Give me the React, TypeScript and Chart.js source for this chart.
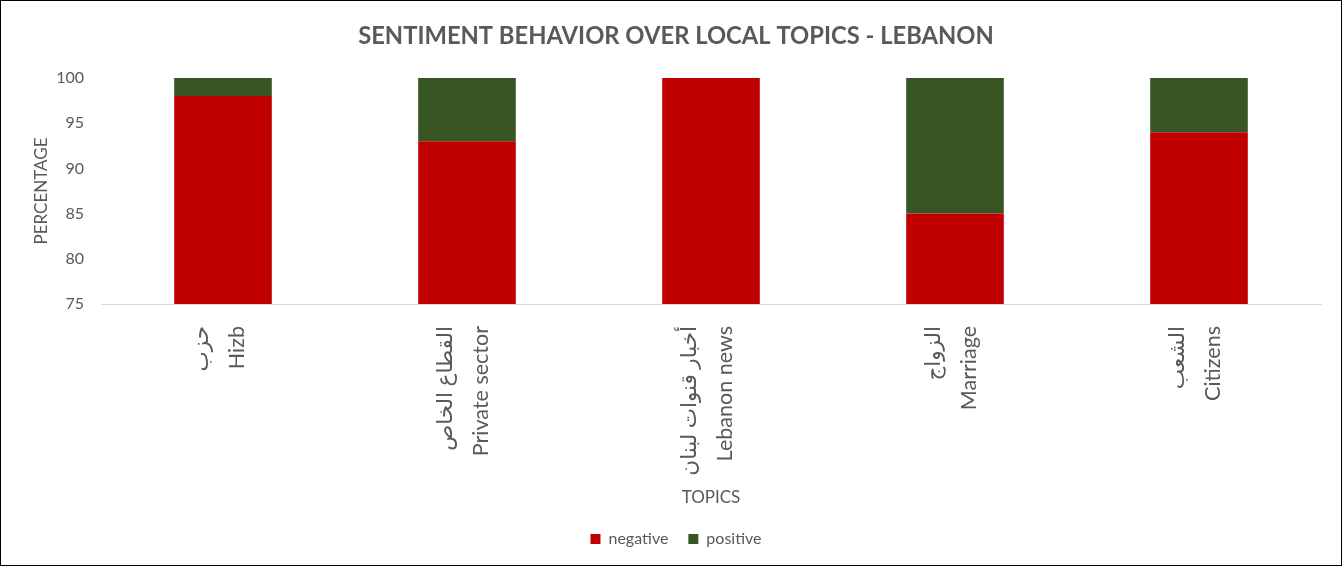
import React, { useEffect, useRef } from "react";
import { Chart, registerables } from "chart.js";

Chart.register(...registerables);

const categories: string[][] = [
  ["حزب", "Hizb"],
  ["القطاع الخاص", "Private sector"],
  ["أخبار قنوات لبنان", "Lebanon news"],
  ["الزواج", "Marriage"],
  ["الشعب", "Citizens"],
];
const negativeValues = [98, 93, 100, 85, 94];
const positiveValues = [2, 7, 0, 15, 6];
const yTicks = [75, 80, 85, 90, 95, 100];

const TEXT = "#595959";
const FONT = "Lato, 'DejaVu Sans', sans-serif";

export default function App() {
  const ref = useRef<HTMLCanvasElement | null>(null);
  useEffect(() => {
    document.body.style.margin = "0";
    const ctx = ref.current!;
    const chart = new Chart(ctx, {
      type: "bar",
      data: {
        labels: categories,
        datasets: [
          { label: "negative", data: negativeValues, backgroundColor: "#C00000", barPercentage: 0.4, categoryPercentage: 1 },
          { label: "positive", data: positiveValues, backgroundColor: "#375623", barPercentage: 0.4, categoryPercentage: 1 },
        ],
      },
      options: {
        animation: false,
        responsive: false,
        maintainAspectRatio: false,
        layout: { padding: { top: 21, left: 30, right: 20, bottom: 8 } },
        plugins: {
          title: {
            display: true,
            text: "SENTIMENT BEHAVIOR OVER LOCAL TOPICS - LEBANON",
            color: TEXT,
            font: { family: FONT, size: 23.75, weight: "bold" },
            padding: { top: 0, bottom: 27.5 },
          },
          legend: {
            position: "bottom",
            labels: {
              color: TEXT,
              font: { family: FONT, size: 16 },
              boxWidth: 10,
              boxHeight: 10,
              padding: 20,
            },
          },
          tooltip: { enabled: false },
        },
        scales: {
          x: {
            stacked: true,
            afterFit: (scale: any) => {
              scale.height = 207;
            },
            grid: { display: false, drawTicks: false },
            border: { display: true, color: "#d9d9d9", width: 1 },
            ticks: {
              color: TEXT,
              font: { family: FONT, size: 21.5, lineHeight: "36px" },
              minRotation: 90,
              maxRotation: 90,
              padding: 22,
              labelOffset: -22,
              autoSkip: false,
            },
            title: {
              display: true,
              text: "TOPICS",
              color: TEXT,
              font: { family: FONT, size: 17 },
              padding: { top: 0, bottom: 3 },
            },
          },
          y: {
            stacked: true,
            min: 75,
            max: 100,
            afterBuildTicks: (scale: any) => {
              scale.ticks = yTicks.map((v) => ({ value: v }));
            },
            afterFit: (scale: any) => {
              scale.width = 70;
            },
            grid: { display: false, drawTicks: false },
            border: { display: false },
            ticks: {
              color: TEXT,
              font: { family: FONT, size: 16 },
              padding: 17,
            },
            title: {
              display: true,
              text: "PERCENTAGE",
              color: TEXT,
              font: { family: FONT, size: 17 },
              padding: 0,
            },
          },
        },
      },
    });
    return () => chart.destroy();
  }, []);
  return (
    <div
      style={{
        position: "absolute",
        left: 0,
        top: 0,
        width: 1342,
        height: 566,
        boxSizing: "border-box",
        border: "1px solid #000",
        background: "#fff",
      }}
    >
      <canvas ref={ref} width={1340} height={564} style={{ display: "block" }} />
    </div>
  );
}
